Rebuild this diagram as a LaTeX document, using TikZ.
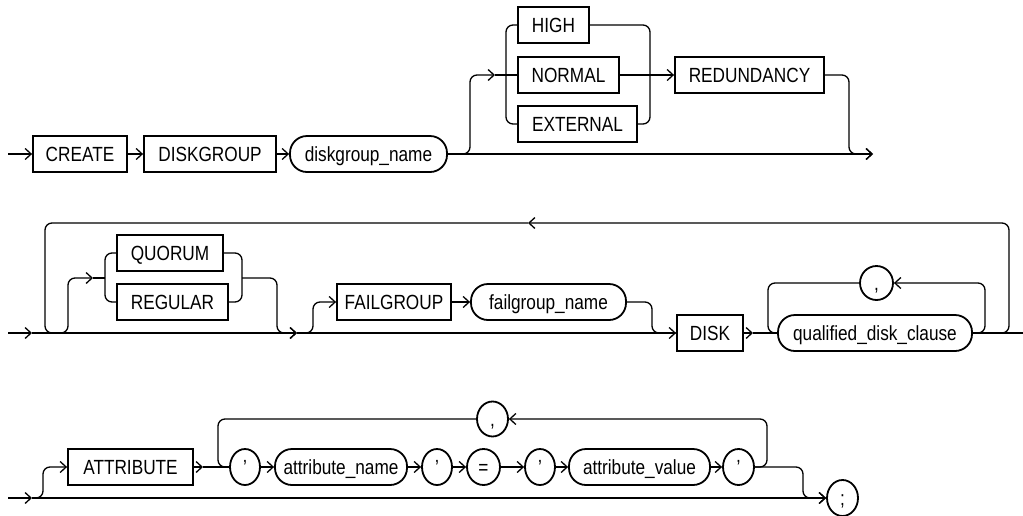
\documentclass[tikz,border=0pt]{standalone}
\usepackage{fontspec}
\setmainfont{Liberation Sans}[FakeStretch=0.84]
\usetikzlibrary{arrows.meta,shapes.geometric}
\begin{document}
\begin{tikzpicture}[x=1pt,y=-1pt,
  every node/.style={font=\fontsize{20.5}{24}\selectfont, inner sep=0pt, text height=14.7pt, text depth=0pt},
  kw/.style={draw, line width=1.8pt, minimum height=36pt},
  nt/.style={draw, line width=1.8pt, minimum height=36pt, rounded corners=17pt},
  sym/.style={draw, ellipse, line width=1.8pt, minimum height=36pt},
  ln/.style={line width=1.3pt, rounded corners=7pt},
  ar/.style={ln, -{Straight Barb[length=6pt,width=11pt,line width=1.3pt]}}]
\useasboundingbox (0,0) rectangle (1023,515);

% ---------- row 1 ----------
\coordinate (s1) at (8,154);
\node[kw,minimum width=94pt] (create) at (80,154) {CREATE};
\node[kw,minimum width=132pt] (dgrp) at (210,154) {DISKGROUP};
\node[nt,minimum width=157pt] (dgname) at (368.5,154) {diskgroup\_name};
\node[kw,minimum width=71pt] (high) at (553.5,25) {HIGH};
\node[kw,minimum width=101pt] (normal) at (568.5,75) {NORMAL};
\node[kw,minimum width=119pt] (external) at (577.5,124) {EXTERNAL};
\node[kw,minimum width=149pt] (redund) at (749.5,75) {REDUNDANCY};
\coordinate (e1) at (873,154);
\coordinate (j1) at (495,75);

\draw[ar] (s1) -- (create);
\draw[ar] (create) -- (dgrp);
\draw[ar] (dgrp) -- (dgname);
\draw[ar] (dgname) -- (e1);
\draw[ar] (dgname.east) -- (470,154) -- (470,75) -- (j1);
\draw[ln] (j1) -- (normal);
\draw[ln] (high.west) -- (506,25) -- (506,124) -- (external.west);
\draw[ln] (high.east) -- (650,25) -- (650,124) -- (external.east);
\draw[ar] (normal) -- (redund);
\draw[ar] (redund.east) -- (849,75) -- (849,154) -- (e1);

% ---------- row 2 ----------
\coordinate (s2) at (8,333);
\coordinate (a2) at (32,333);
\coordinate (m2) at (297,333);
\coordinate (e2) at (1023,333);
\coordinate (j2) at (93,278);
\coordinate (t2) at (528,223);
\coordinate (d2) at (753,333);
\node[kw,minimum width=106pt] (quorum) at (170,253) {QUORUM};
\node[kw,minimum width=111pt] (regular) at (172.5,302) {REGULAR};
\node[kw,minimum width=114pt] (failgrp) at (394,302) {FAILGROUP};
\node[nt,minimum width=155pt] (fgname) at (548.5,302) {failgroup\_name};
\node[kw,minimum width=66pt] (disk) at (710,333) {DISK};
\node[nt,minimum width=194pt] (qdc) at (875,333) {qualified\_disk\_clause};
\node[sym,minimum width=33pt,minimum height=34pt] (comma1) at (876.5,283) {,};

\draw[ar] (s2) -- (a2);
\draw[ar] (a2) -- (m2);
\draw[ar] (m2) -- (disk);
\draw[ar] (a2) -- (68,333) -- (68,278) -- (j2);
\draw[ln] (j2) -- (105,278);
\draw[ln] (quorum.west) -- (105,253) -- (105,302) -- (regular.west);
\draw[ln] (quorum.east) -- (242,253) -- (242,302) -- (regular.east);
\draw[ar] (242,278) -- (277,278) -- (277,333) -- (m2);
\draw[ar] (m2) -- (313,333) -- (313,302) -- (failgrp);
\draw[ar] (failgrp) -- (fgname);
\draw[ln] (fgname.east) -- (652,302) -- (652,333) -- (disk.west);
\draw[ar] (disk) -- (d2);
\draw[ln] (d2) -- (qdc);
\draw[ar] (qdc.east) -- (985,333) -- (985,283) -- (comma1);
\draw[ln] (comma1) -- (768,283) -- (768,333) -- (qdc.west);
\draw[ln] (qdc.east) -- (e2);
\draw[ar] (995,333) -- (1009,333) -- (1009,223) -- (t2);
\draw[ln] (t2) -- (45,223) -- (45,333) -- (60,333);

% ---------- row 3 ----------
\coordinate (s3) at (8,498);
\coordinate (a3) at (32,498);
\coordinate (d3) at (203,467);
\node[kw,minimum width=125pt] (attr) at (130.5,467) {ATTRIBUTE};
\node[sym,minimum width=30pt] (q1) at (245,467) {’};
\node[nt,minimum width=132pt] (aname) at (341,467) {attribute\_name};
\node[sym,minimum width=30pt] (q2) at (437,467) {’};
\node[sym,minimum width=33pt] (eq) at (483.5,467) {=};
\node[sym,minimum width=30pt] (q3) at (540,467) {’};
\node[nt,minimum width=141pt] (avalue) at (639.5,467) {attribute\_value};
\node[sym,minimum width=31pt] (q4) at (738.5,467) {’};
\node[sym,minimum width=31pt,minimum height=35pt] (comma2) at (492.5,419) {,};
\node[sym,minimum width=31pt] (semi) at (842.5,498) {;};

\draw[ar] (s3) -- (a3);
\draw[ar] (a3) -- (semi);
\draw[ar] (a3) -- (43,498) -- (43,467) -- (attr);
\draw[ar] (attr) -- (d3);
\draw[ln] (d3) -- (q1);
\draw[ar] (q1) -- (aname);
\draw[ar] (aname) -- (q2);
\draw[ar] (q2) -- (eq);
\draw[ar] (eq) -- (q3);
\draw[ar] (q3) -- (avalue);
\draw[ar] (avalue) -- (q4);
\draw[ar] (q4.east) -- (767,467) -- (767,419) -- (comma2);
\draw[ln] (comma2) -- (218,419) -- (218,467) -- (q1.west);
\draw[ar] (q4.east) -- (803,467) -- (803,498) -- (semi);
\end{tikzpicture}
\end{document}
